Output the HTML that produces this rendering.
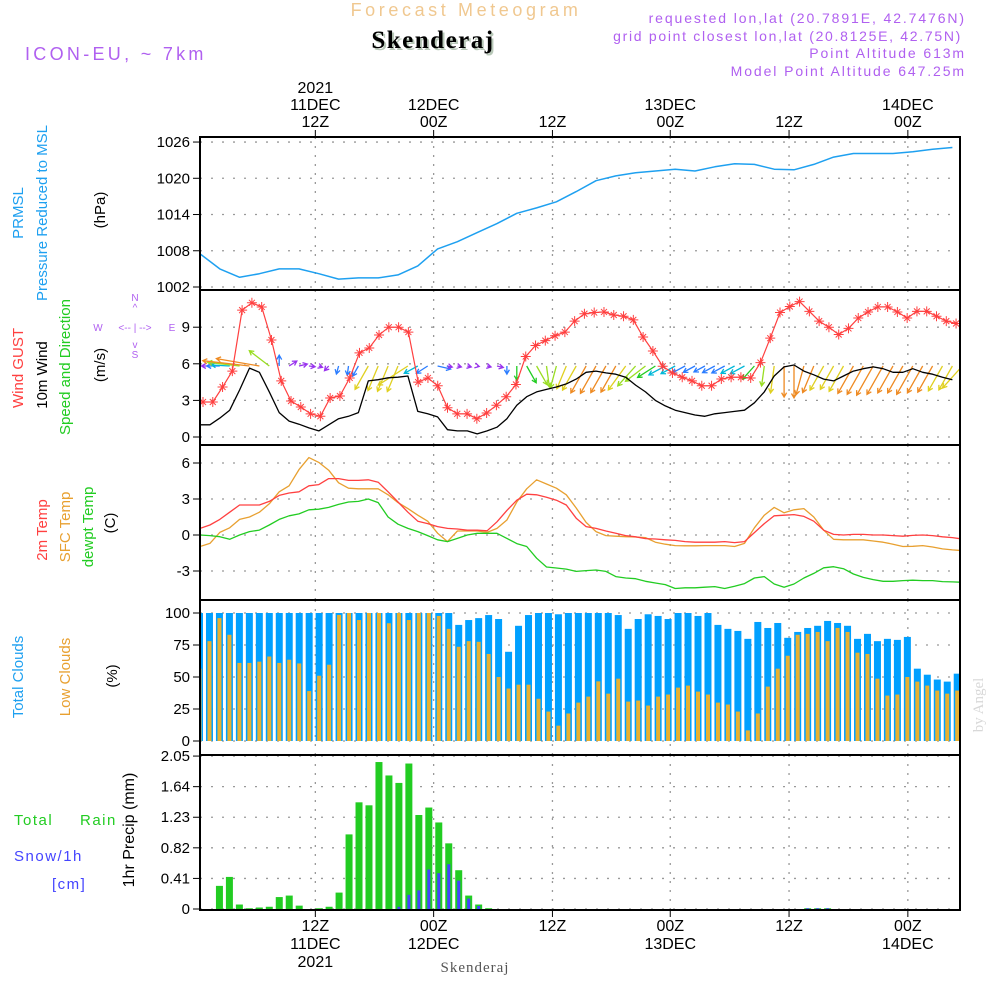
<!DOCTYPE html>
<html><head><meta charset="utf-8"><style>
html,body{margin:0;padding:0;background:#fff;}
svg{display:block;font-family:"Liberation Sans",sans-serif;}
</style></head><body>
<svg id="chart" width="1000" height="1000" viewBox="0 0 1000 1000" xmlns="http://www.w3.org/2000/svg">
<rect width="1000" height="1000" fill="#fff"/>
<defs><clipPath id="plotclip"><rect x="200" y="137" width="760" height="773"/></clipPath></defs>
<g id="grid"></g>
<g id="marks" clip-path="url(#plotclip)"></g>
<g id="frames"></g>
<g id="labels"></g>
<!-- header -->
<text x="466" y="16" text-anchor="middle" font-size="18" fill="#f0c890" letter-spacing="3.6">Forecast Meteogram</text>
<text x="435" y="50" text-anchor="middle" font-size="25" font-weight="bold" font-family="Liberation Serif,serif" fill="#b8c8b8" letter-spacing="1.5">Skenderaj</text>
<text x="433" y="48" text-anchor="middle" font-size="25" font-weight="bold" font-family="Liberation Serif,serif" fill="#000" letter-spacing="1.5">Skenderaj</text>
<text x="25" y="60" font-size="18" fill="#b060f0" letter-spacing="3.3">ICON-EU, ~ 7km</text>
<text x="966" y="23" text-anchor="end" font-size="14" fill="#b060f0" letter-spacing="1.9">requested lon,lat (20.7891E, 42.7476N)</text>
<text x="962" y="41" text-anchor="end" font-size="14" fill="#b060f0" letter-spacing="1.7">grid point closest lon,lat (20.8125E, 42.75N)</text>
<text x="966" y="58" text-anchor="end" font-size="14" fill="#b060f0" letter-spacing="1.9">Point Altitude 613m</text>
<text x="966" y="76" text-anchor="end" font-size="14" fill="#b060f0" letter-spacing="1.9">Model Point Altitude 647.25m</text>
<text x="475" y="972" text-anchor="middle" font-size="15" font-family="Liberation Serif,serif" fill="#555" letter-spacing="1">Skenderaj</text>
<text transform="translate(983,705) rotate(-90)" text-anchor="middle" font-size="15" font-family="Liberation Serif,serif" fill="#d8d8d8">by Angel</text>
<!-- left panel titles -->
<g font-size="15">
<text transform="translate(23,213) rotate(-90)" text-anchor="middle" fill="#1ea0f0">PRMSL</text>
<text transform="translate(47,213) rotate(-90)" text-anchor="middle" fill="#1ea0f0">Pressure Reduced to MSL</text>
<text transform="translate(105,210) rotate(-90)" text-anchor="middle" fill="#000">(hPa)</text>
<text transform="translate(23,368) rotate(-90)" text-anchor="middle" fill="#ff4040">Wind GUST</text>
<text transform="translate(47,375) rotate(-90)" text-anchor="middle" fill="#000">10m Wind</text>
<text transform="translate(70,367) rotate(-90)" text-anchor="middle" fill="#22cc22">Speed and Direction</text>
<text transform="translate(105,365) rotate(-90)" text-anchor="middle" fill="#000">(m/s)</text>
<text transform="translate(47,530) rotate(-90)" text-anchor="middle" fill="#ff4040">2m Temp</text>
<text transform="translate(70,527) rotate(-90)" text-anchor="middle" fill="#e8a030">SFC Temp</text>
<text transform="translate(93,527) rotate(-90)" text-anchor="middle" fill="#22cc22">dewpt Temp</text>
<text transform="translate(115,523) rotate(-90)" text-anchor="middle" fill="#000">(C)</text>
<text transform="translate(23,677) rotate(-90)" text-anchor="middle" fill="#1ea0f0">Total Clouds</text>
<text transform="translate(70,677) rotate(-90)" text-anchor="middle" fill="#e8a030">Low Clouds</text>
<text transform="translate(117,676) rotate(-90)" text-anchor="middle" fill="#000">(%)</text>
<text transform="translate(134,830) rotate(-90)" text-anchor="middle" fill="#000" font-size="16">1hr Precip (mm)</text>
<text x="14" y="825" fill="#22cc22" letter-spacing="1.5">Total</text>
<text x="80" y="825" fill="#22cc22" letter-spacing="1.5">Rain</text>
<text x="14" y="861" fill="#4444ff" letter-spacing="1.5">Snow/1h</text>
<text x="52" y="889" fill="#4444ff" letter-spacing="1.5">[cm]</text>
</g>
<g font-size="10" fill="#b060f0">
<text x="135" y="301" text-anchor="middle">N</text>
<text x="135" y="311" text-anchor="middle">^</text>
<text x="98" y="331" text-anchor="middle">W</text>
<text x="135" y="331" text-anchor="middle">&lt;-- | --&gt;</text>
<text x="172" y="331" text-anchor="middle">E</text>
<text x="135" y="348" text-anchor="middle">v</text>
<text x="135" y="358" text-anchor="middle">S</text>
</g>
</svg>
<script>
// ---- data (hourly from 00Z 11DEC) ----
const tickHours = [11.65, 23.6, 35.6, 47.5, 59.5, 71.5];
const tickTimes = ["12Z", "00Z", "12Z", "00Z", "12Z", "00Z"];
const tickDays = ["11DEC", "12DEC", "", "13DEC", "", "14DEC"];
const tickYears = ["2021", "", "", "", "", ""];
const pressure = [1007.5,1005,1003.6,1004.2,1005,1005,1004.2,1003.3,1003.5,1003.5,1004,1005.5,1008.3,1009.5,1011,1012.5,1014.2,1015.1,1016.1,1017.8,1019.6,1020.4,1020.9,1021.2,1021.5,1021.2,1021.9,1022.4,1022.3,1021.5,1021.4,1022.3,1023.5,1024.1,1024.1,1024.1,1024.4,1024.8,1025.1];
const pressureStep = 2;
const pressureTicks = [1002, 1008, 1014, 1020, 1026];
const gust = [2.87,2.87,4.1,5.4,10.4,11.0,10.66,7.95,4.6,2.95,2.46,1.9,1.7,3.2,3.36,4.84,6.9,7.3,8.36,9.0,9.0,8.6,4.5,4.84,4.2,2.4,1.9,1.9,1.5,1.97,2.6,3.3,4.3,6.6,7.5,7.9,8.3,8.6,9.5,10.1,10.2,10.25,10.0,9.9,9.6,8.2,7.05,5.8,5.25,4.9,4.6,4.2,4.2,4.75,4.9,4.9,4.84,6.1,8.1,10.2,10.7,11.1,10.3,9.5,9.0,8.4,8.9,9.75,10.25,10.66,10.66,10.25,9.75,10.3,10.3,9.9,9.5,9.3];
const wind = [1.0,1.0,1.55,2.2,3.85,5.65,5.3,3.7,2.0,1.3,1.05,0.75,0.5,1.0,1.5,1.7,2.0,4.6,4.7,4.85,4.9,5.0,2.1,1.9,1.65,0.6,0.5,0.5,0.25,0.5,0.8,1.5,2.6,3.3,3.7,3.9,4.1,4.35,4.75,5.3,5.4,5.25,5.15,4.9,4.25,3.7,3.0,2.55,2.2,2.0,1.8,1.7,1.9,2.0,2.1,2.2,2.8,3.7,5.0,5.75,5.9,5.4,5.1,4.75,4.6,5.0,5.4,5.6,5.75,5.6,5.3,5.3,5.6,5.3,5.15,4.9,4.7];
const windDir = [90,90,90,95,100,100,105,140,180,225,250,280,300,30,10,5,20,20,15,15,15,45,50,45,290,290,290,290,290,290,290,0,0,340,340,355,10,15,20,20,20,20,20,25,30,40,45,50,50,50,50,50,50,50,50,50,30,5,5,0,0,10,15,20,20,20,20,20,20,20,20,20,20,20,20,20,20,30];
const windTicks = [0, 3, 6, 9];
const temp2m = [0.55,0.83,1.3,1.9,2.5,2.5,2.5,2.8,3.3,3.5,3.6,4.1,4.2,4.7,4.7,4.55,4.55,4.6,4.4,3.6,2.75,1.9,1.15,0.95,0.7,0.55,0.5,0.4,0.4,0.35,1.1,2.05,2.9,3.4,3.35,3.15,2.9,2.5,1.4,0.7,0.55,0.33,0.15,-0.05,-0.15,-0.3,-0.33,-0.4,-0.45,-0.55,-0.6,-0.6,-0.6,-0.55,-0.63,-0.55,0.2,0.95,1.6,1.65,1.7,1.55,1.15,0.4,0.05,0,0.05,0.05,0,0,-0.05,-0.1,-0.03,0,-0.05,-0.15,-0.22,-0.33];
const tempSfc = [-0.96,-0.7,0.22,0.6,1.3,1.5,1.9,2.6,3.6,4.1,5.45,6.45,6.05,5.4,4.35,3.9,3.85,3.85,3.85,3.35,2.7,2.2,1.65,1.15,0.15,-0.55,0.33,0.33,0.33,0.22,0.55,1.25,2.75,3.85,4.6,4.25,3.9,3.35,2.25,1.05,0.28,-0.05,-0.1,-0.14,-0.17,-0.22,-0.6,-0.77,-0.88,-0.9,-0.9,-0.88,-0.88,-0.88,-0.96,-0.7,0.6,1.65,2.3,1.85,2.1,2.2,1.5,0.4,-0.36,-0.4,-0.4,-0.4,-0.5,-0.6,-0.77,-0.96,-0.94,-0.88,-1.0,-1.16,-1.24,-1.3];
const dewpt = [0,-0.05,-0.14,-0.36,0,0.28,0.41,0.83,1.3,1.6,1.76,2.1,2.15,2.3,2.55,2.75,2.8,3.0,2.7,1.5,0.9,0.55,0.28,-0.05,-0.4,-0.55,-0.28,0,0.14,0.14,0.14,-0.28,-0.72,-0.96,-1.93,-2.67,-2.75,-2.84,-3.03,-2.97,-2.92,-3.03,-3.47,-3.58,-3.64,-3.86,-4.0,-4.13,-4.46,-4.4,-4.4,-4.35,-4.3,-4.46,-4.27,-4.05,-3.58,-3.47,-4.08,-4.35,-4.08,-3.58,-3.2,-2.73,-2.64,-2.81,-3.25,-3.53,-3.72,-3.86,-3.86,-3.8,-3.77,-3.8,-3.8,-3.88,-3.91,-3.94];
const tempTicks = [-3, 0, 3, 6];
const totalClouds = [100,100,100,100,100,100,100,100,100,100,100,100,100,100,100,100,100,100,100,100,100,100,100,100,100,100,90.7,94.5,96,98.4,95.3,69.7,90,98.4,100,100,99,100,100,100,100,100,98.4,87.6,95.3,99,97.7,95.3,100,100,97.7,100,90.7,87.6,86,79.8,93,88.3,92.2,80.6,85.2,88.3,90,93.8,92.2,90,79.8,83.7,78,79.8,79,81.3,56.5,51.8,48,46.4,52.6];
const lowClouds = [56.5,78,96,83,61,61,62,66,61,63.5,60.6,39,51,59.6,98.5,100,94.5,100,100,92,100,94.5,100,100,97.7,87.6,73.6,78,77.5,68,50,41,44,44,33,23,12,21.5,30,34.7,46.6,37,48.7,30.8,31.6,27.7,34.7,36.3,41.7,43.3,38.6,36.3,30,28.5,23,8.3,21.5,42.5,56.5,66.6,83,83.7,85.2,78,88.3,85.2,69,68,48.7,35.5,36.3,50,46.4,43.3,39.4,37,39.4];
const cloudTicks = [0, 25, 50, 75, 100];
const rain = [0,0,0.31,0.43,0.06,0.01,0.02,0.03,0.16,0.18,0.045,0,0.01,0.03,0.22,1.0,1.43,1.39,1.97,1.79,1.69,1.95,1.26,1.36,1.16,0.88,0.52,0.18,0.06,0.01,0,0,0,0,0,0,0,0,0,0,0,0,0,0,0,0,0,0,0,0,0,0,0,0,0,0,0,0,0,0,0,0.01,0.01,0.01,0,0,0,0,0,0,0,0,0,0,0,0,0];
const snow = [0,0,0,0,0,0,0,0,0,0,0,0,0,0,0,0,0,0,0,0,0.03,0.19,0.25,0.53,0.48,0.6,0.38,0.14,0.04,0,0,0,0,0,0,0,0,0,0,0,0,0,0,0,0,0,0,0,0,0,0,0,0,0,0,0,0,0,0,0,0,0.01,0.01,0.01,0,0,0,0,0,0,0,0,0,0,0,0,0];
const precipTicks = ["0","0.41","0.82","1.23","1.64","2.05"];

// ---- scales ----
const X0 = 200, X1 = 960;
const xS = h => 200 + h * 9.9;
const xBar = i => 199.5 + i * 9.97;
const xGust = i => 203 + i * 9.78;
const yP = v => 287 - (v - 1002) * 6.04;
const yW = v => 437 - v * 12.2;
const yT = v => 535 - v * 12;
const yC = v => 741 - v * 1.28;
const yR = v => 909 - v * 74.6;
const panels = [[137,290],[290,445],[445,600],[600,755],[755,910]];
const NS = "http://www.w3.org/2000/svg";
function mk(parent, tag, attrs) {
  const e = document.createElementNS(NS, tag);
  for (const k in attrs) e.setAttribute(k, attrs[k]);
  parent.appendChild(e);
  return e;
}
const G = document.getElementById('grid'), M = document.getElementById('marks'),
      F = document.getElementById('frames'), L = document.getElementById('labels');

tickHours.forEach((h, i) => {
  const x = xS(h);
  panels.forEach(p => {
    const ln = mk(G, 'line', {x1: x, x2: x, y1: p[0], y2: p[1], stroke: '#999', 'stroke-width': 1.3, 'stroke-dasharray': '2 7'});
    
    
  });
  mk(F, 'line', {x1: x, x2: x, y1: 130, y2: 137, stroke: '#000', 'stroke-width': 1});
  mk(F, 'line', {x1: x, x2: x, y1: 910, y2: 917, stroke: '#000', 'stroke-width': 1});
  const top = [tickYears[i], tickDays[i], tickTimes[i]];
  top.forEach((t, j) => {
    if (!t) return;
    const tx = mk(L, 'text', {x: x, y: 93 + j * 17, 'text-anchor': 'middle', 'font-size': 16, fill: '#000'});
    tx.textContent = t;
    
    
  });
  const bot = [tickTimes[i], tickDays[i], tickYears[i]];
  bot.forEach((t, j) => {
    if (!t) return;
    const tx = mk(L, 'text', {x: x, y: 931 + j * 18, 'text-anchor': 'middle', 'font-size': 16, fill: '#000'});
    tx.textContent = t;
    
    
  });
});

function yGrid(vals, yf, labels, name) {
  vals.forEach((v, i) => {
    const y = yf(v);
    const ln = mk(G, 'line', {x1: X0, x2: X1, y1: y, y2: y, stroke: '#999', 'stroke-width': 1.3, 'stroke-dasharray': '2 9'});
    
    
    mk(F, 'line', {x1: 193, x2: 200, y1: y, y2: y, stroke: '#000', 'stroke-width': 1});
    const tx = mk(L, 'text', {x: 190, y: y + 5, 'text-anchor': 'end', 'font-size': 15, fill: '#000'});
    tx.textContent = labels ? labels[i] : String(v);
    
    
  });
}
yGrid(pressureTicks, yP, null, 'pressure');
yGrid(windTicks, yW, null, 'wind');
yGrid(tempTicks, yT, null, 'temp');
yGrid(cloudTicks, yC, null, 'cloud');
yGrid(precipTicks.map(Number), yR, precipTicks, 'precip');

function line(vals, xf, yf, color, name, w) {
  const pts = vals.map((v, i) => xf(i).toFixed(1) + ',' + yf(v).toFixed(1)).join(' ');
  const pl = mk(M, 'polyline', {points: pts, fill: 'none', stroke: color, 'stroke-width': w || 1.4, 'stroke-linejoin': 'round'});
  
  
}

// clouds
totalClouds.forEach((v, i) => {
  const x = xBar(i);
  const r = mk(M, 'rect', {x: x - 3.5, y: yC(v), width: 7, height: yC(0) - yC(v), fill: '#00a0ff'});
  
  
});
lowClouds.forEach((v, i) => {
  const x = xBar(i);
  const r = mk(M, 'rect', {x: x - 2, y: yC(v), width: 4, height: yC(0) - yC(v), fill: '#e8b030'});
  
  
});
// precip
rain.forEach((v, i) => {
  if (v <= 0) return;
  const x = xBar(i);
  const r = mk(M, 'rect', {x: x - 3.5, y: yR(v), width: 7, height: yR(0) - yR(v), fill: '#22cc22'});
  
  
});
snow.forEach((v, i) => {
  if (v <= 0) return;
  const x = xBar(i);
  const r = mk(M, 'rect', {x: x - 1.5, y: yR(v), width: 3, height: yR(0) - yR(v), fill: '#4444ff'});
  
  
});

line(pressure, i => xS(i * pressureStep), yP, '#1ea0f0', 'pressure-line', 1.5);
line(tempSfc, xS, yT, '#e8a030', 'sfc-temp-line', 1.3);
line(temp2m, xS, yT, '#ff4040', '2m-temp-line', 1.3);
line(dewpt, xS, yT, '#22cc22', 'dewpoint-line', 1.3);

function windColor(s) {
  if (s < 1.4) return '#9933ee';
  if (s < 2.1) return '#2a7cff';
  if (s < 2.6) return '#00b8d8';
  if (s < 3.5) return '#22cc22';
  if (s < 4.3) return '#99dd22';
  if (s < 5.1) return '#e0d020';
  return '#ee8a22';
}
windDir.forEach((d, i) => {
  const s = i < wind.length ? wind[i] : wind[wind.length - 1];
  const rad = d * Math.PI / 180;
  const x = xS(i), y = 366;
  const dx = -Math.sin(rad) * s * 8.4, dy = Math.cos(rad) * s * 5.4;
  const x2 = x + dx, y2 = y + dy;
  const len = Math.hypot(dx, dy) || 1;
  const ux = dx / len, uy = dy / len, hl = 5;
  const c = windColor(s);
  const p = `M${x},${y} L${x2},${y2} M${x2 - hl * (ux * 0.87 - uy * 0.5)},${y2 - hl * (uy * 0.87 + ux * 0.5)} L${x2},${y2} L${x2 - hl * (ux * 0.87 + uy * 0.5)},${y2 - hl * (uy * 0.87 - ux * 0.5)}`;
  const a = mk(M, 'path', {d: p, stroke: c, 'stroke-width': 1.3, fill: 'none'});
  
  
});
line(wind, xS, yW, '#000', 'wind-speed-line', 1.3);
line(gust, xGust, yW, '#ff4040', 'gust-line', 1.2);
gust.forEach((v, i) => {
  const x = xGust(i), y = yW(v);
  const g = mk(M, 'path', {d: `M${x - 5},${y} H${x + 5} M${x},${y - 5} V${y + 5} M${x - 3},${y - 3} L${x + 3},${y + 3} M${x - 3},${y + 3} L${x + 3},${y - 3}`, stroke: '#ff4040', 'stroke-width': 1});
  
  
});

panels.forEach(p => {
  const r = mk(F, 'rect', {x: X0, y: p[0], width: X1 - X0, height: p[1] - p[0], fill: 'none', stroke: '#000', 'stroke-width': 2});
  
  
});
</script>
</body></html>
